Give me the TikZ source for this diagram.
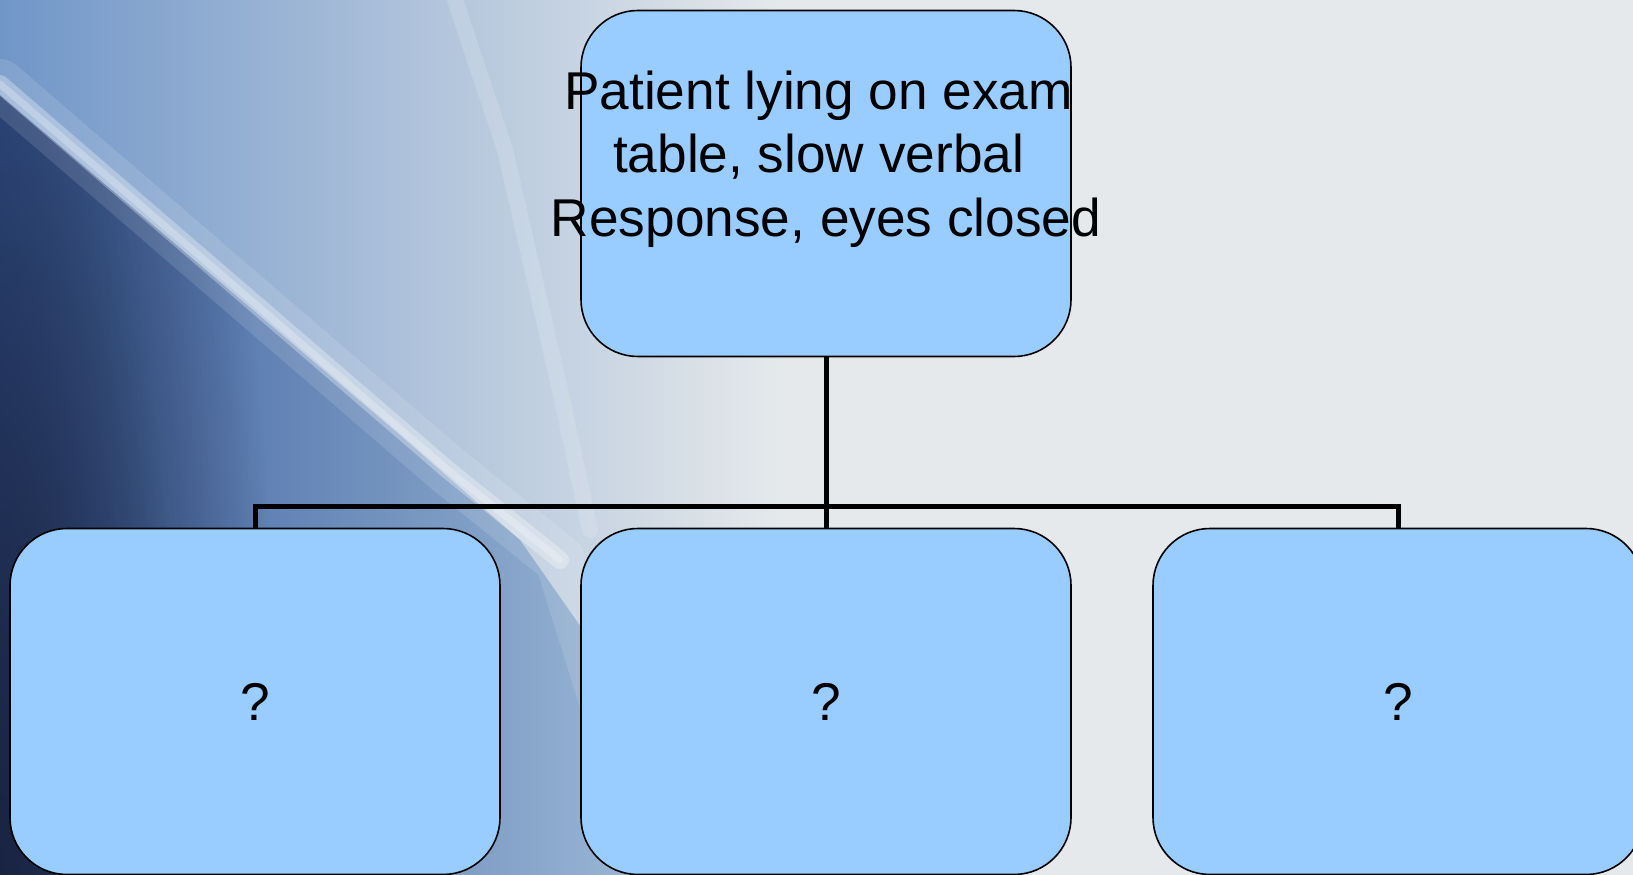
\documentclass[tikz,border=0pt]{standalone}
\usepackage{fontspec}
\setmainfont{Liberation Sans}
\usetikzlibrary{fadings}
\tikzfading[name=softblob, inner color=transparent!0, outer color=transparent!100]
\definecolor{bgc}{RGB}{229,233,235}
\definecolor{boxfill}{RGB}{153,204,255}
\definecolor{navy}{RGB}{26,36,66}
\definecolor{deepblue}{RGB}{56,92,156}
\definecolor{midblue}{RGB}{86,126,188}
\definecolor{paleblue}{RGB}{155,184,214}
\definecolor{topblue}{RGB}{112,150,200}
\begin{document}
\begin{tikzpicture}[x=1pt,y=-1pt,
  chartbox/.style={draw=black, line width=1.6pt, fill=boxfill, rounded corners=57pt,
    minimum width=490pt, minimum height=346pt, inner sep=0pt,
    font=\fontsize{53.2pt}{63.5pt}\selectfont},
  txt/.style={inner sep=0pt, align=center, font=\fontsize{53.2pt}{63.5pt}\selectfont},
  link/.style={draw=black, line width=5pt, line join=miter},
  streak/.style={draw=white, line cap=round, line join=round},
]
\path[use as bounding box] (0,0) rectangle (1633,875);
\clip (0,0) rectangle (1633,875);
% background
\fill[bgc] (0,0) rectangle (1633,875);
\shade[left color=topblue, right color=bgc] (0,0) rectangle (780,875);
\begin{scope}
  \clip (0,95) -- (200,265) -- (400,435) -- (520,540) -- (590,640) -- (650,875) -- (0,875) -- cycle;
  \shade[left color=deepblue, middle color=midblue, right color=paleblue] (0,0) rectangle (650,875);
  \fill[navy, path fading=softblob] (-280,-375) rectangle (280,2125);
  \fill[navy, opacity=0.45, path fading=softblob] (-180,-25) rectangle (180,1775);
\end{scope}
\draw[streak, opacity=0.12, line width=50pt] (0,84) -- (448,470) -- (560,560) -- (610,720);
\draw[streak, opacity=0.3, line width=18pt] (0,84) -- (448,470) -- (560,560);
\draw[streak, opacity=0.25, line width=7pt] (0,84) -- (448,470) -- (560,560);
\draw[streak, opacity=0.15, line width=16pt] (455,0) -- (505,150) -- (560,390) -- (590,530);
% boxes
\node[chartbox] (top) at (826,183.5) {};
\node[txt, anchor=north] (toptext) at (826,70.5)
  {Patient lying on exam\kern0.278em\\table, slow verbal\kern0.278em\\Response, eyes closed};
\node[chartbox] (b1) at (255,701.5) {?};
\node[chartbox] (b2) at (826,701.5) {?};
\node[chartbox] (b3) at (1398,701.5) {?};
\coordinate (bus) at (826,506);
% connectors
\draw[link] (top.south) -- (b2.north);
\draw[link] (b1.north) -- (b1.north |- bus) -- (b3.north |- bus) -- (b3.north);
\end{tikzpicture}
\end{document}
